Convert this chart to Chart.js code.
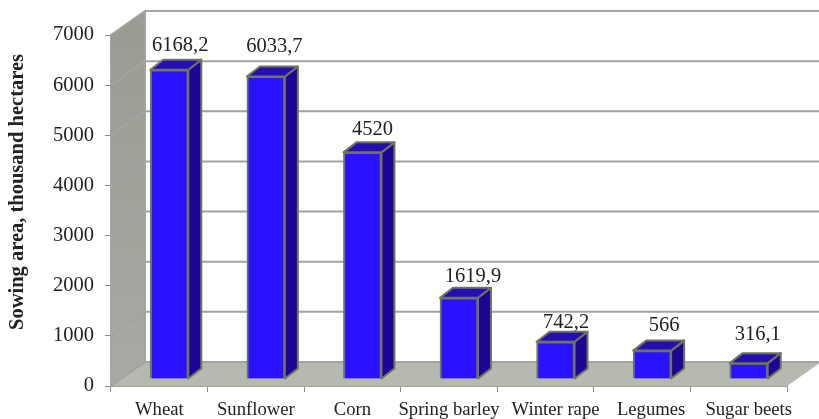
<!DOCTYPE html>
<html>
<head>
<meta charset="utf-8">
<style>
    html, body { margin: 0; padding: 0; background: #fff; }
    #wrap { width: 819px; height: 419px; }
</style>
<script src="https://cdn.jsdelivr.net/npm/chart.js@4"></script>
</head>
<body>
<div id="wrap"><canvas id="sowingChart" width="819" height="419"></canvas></div>
<script>
const crops = ['Wheat', 'Sunflower', 'Corn', 'Spring barley', 'Winter rape', 'Legumes', 'Sugar beets'];
const sowingArea = [6168.2, 6033.7, 4520, 1619.9, 742.2, 566, 316.1];
const yTicks = [0, 1000, 2000, 3000, 4000, 5000, 6000, 7000];

const FONT = '"Liberation Serif", "Times New Roman", serif';
const TEXT = '#222';
// depth of the fake 3D box
const wallDx = 34, wallDy = 24;
const barDx = 10, barDy = 7, sideDx = 13, sideDy = 10;
// hand placed text, the original labels are not quite centred
const valueNudgeX = [11, 8.5, 10, 14, 10.5, 12, 9];
const valueNudgeY = [19, 24, 17, 16, 13.5, 20, 23];
const cropNudgeX = [0, 0, 0, 0, 10, 9, 10];

function fillPoly(ctx, pts, fill, stroke, lineWidth) {
    ctx.beginPath();
    pts.forEach((p, i) => i ? ctx.lineTo(p[0], p[1]) : ctx.moveTo(p[0], p[1]));
    ctx.closePath();
    if (fill) { ctx.fillStyle = fill; ctx.fill(); }
    if (stroke) { ctx.strokeStyle = stroke; ctx.lineWidth = lineWidth || 1; ctx.stroke(); }
}

// Walls and floor behind the bars
const box3d = {
    id: 'box3d',
    beforeDraw(chart) {
        // getLabelItems caches its result, so this shift is kept for the draw
        chart.scales.x.getLabelItems().forEach((item, i) => {
            item.options.translation[0] += cropNudgeX[i];
        });
    },
    beforeDatasetsDraw(chart) {
        const { ctx, chartArea: a, scales } = chart;
        const y0 = scales.y.getPixelForValue(0);
        const yTop = scales.y.getPixelForValue(7000);
        ctx.save();
        const wallFill = ctx.createLinearGradient(0, yTop, 0, y0);
        wallFill.addColorStop(0, '#9b9b94');
        wallFill.addColorStop(1, '#a9aaa3');
        fillPoly(ctx, [[a.left, y0], [a.left, yTop], [a.left + wallDx, yTop - wallDy], [a.left + wallDx, y0 - wallDy]], wallFill);
        fillPoly(ctx, [[a.left, y0], [a.right, y0], [a.right + wallDx, y0 - wallDy], [a.left + wallDx, y0 - wallDy]], '#b5b9af');

        ctx.strokeStyle = '#a3a3a0';
        ctx.lineWidth = 2;
        yTicks.forEach(v => {
            const y = scales.y.getPixelForValue(v);
            ctx.beginPath();
            ctx.moveTo(a.left, y);
            ctx.lineTo(a.left + wallDx, y - wallDy);
            ctx.lineTo(a.right + wallDx, y - wallDy);
            ctx.stroke();
        });
        ctx.beginPath();
        ctx.moveTo(a.left + wallDx, yTop - wallDy);
        ctx.lineTo(a.left + wallDx, y0 - wallDy);
        ctx.stroke();
        ctx.restore();
    },
    // the front face is a normal bar, just pushed back into the box
    beforeDatasetDraw(chart) {
        chart.ctx.save();
        chart.ctx.translate(barDx, -barDy);
    },
    afterDatasetDraw(chart) {
        chart.ctx.restore();
    },
    afterDatasetsDraw(chart) {
        const { ctx } = chart;
        const bars = chart.getDatasetMeta(0).data;
        ctx.save();
        ctx.lineJoin = 'round';
        bars.forEach((bar, i) => {
            const { x, y, base, width } = bar.getProps(['x', 'y', 'base', 'width'], true);
            const l = x - width / 2 + barDx, r = x + width / 2 + barDx;
            const t = y - barDy, b = base - barDy;
            fillPoly(ctx, [[r, t], [r + sideDx, t - sideDy], [r + sideDx, b - sideDy], [r, b]], '#1f0596', '#6f7560', 2);
            fillPoly(ctx, [[l, t], [l + sideDx, t - sideDy], [r + sideDx, t - sideDy], [r, t]], '#260fb0', '#6f7560', 2);

            ctx.fillStyle = TEXT;
            ctx.font = '20.5px ' + FONT;
            ctx.textAlign = 'center';
            ctx.textBaseline = 'alphabetic';
            ctx.fillText(String(sowingArea[i]).replace('.', ','), x + barDx + valueNudgeX[i], t - valueNudgeY[i]);
        });
        ctx.restore();
    },
    // axis title sits higher than the middle of the axis
    afterDraw(chart) {
        const { ctx } = chart;
        ctx.save();
        ctx.translate(22.5, 192);
        ctx.rotate(-Math.PI / 2);
        ctx.fillStyle = TEXT;
        ctx.font = 'bold 20.5px ' + FONT;
        ctx.textAlign = 'center';
        ctx.textBaseline = 'alphabetic';
        ctx.fillText('Sowing area, thousand hectares', 0, 0);
        ctx.restore();
    }
};

const ctx = document.getElementById('sowingChart').getContext('2d');
new Chart(ctx, {
    type: 'bar',
    data: {
        labels: crops,
        datasets: [{
            data: sowingArea,
            backgroundColor: '#2a12ff',
            borderColor: '#6f7560',
            borderWidth: 2,
            barThickness: 38
        }]
    },
    options: {
        responsive: false,
        animation: false,
        layout: { padding: { top: 35, right: 32, left: 0, bottom: 0 } },
        plugins: { legend: { display: false }, tooltip: { enabled: false } },
        scales: {
            x: {
                afterFit: s => { s.height = 33; },
                grid: { drawOnChartArea: false, tickLength: 6, color: '#8c8c88', lineWidth: 1 },
                border: { color: '#a3a3a0', width: 2 },
                ticks: {
                    color: TEXT,
                    maxRotation: 0,
                    autoSkip: false,
                    padding: 7,
                    font: { family: FONT, size: 18.7 }
                }
            },
            y: {
                min: 0,
                max: 7000,
                afterFit: s => { s.width = 111; },
                afterBuildTicks: s => { s.ticks = yTicks.map(v => ({ value: v })); },
                grid: { drawOnChartArea: false, tickLength: 6, color: '#8c8c88', lineWidth: 1 },
                border: { color: '#a3a3a0', width: 2 },
                ticks: {
                    color: TEXT,
                    padding: 11,
                    callback: v => String(v),
                    font: { family: FONT, size: 20.5 }
                }
            }
        }
    },
    plugins: [box3d]
});
</script>
</body>
</html>
